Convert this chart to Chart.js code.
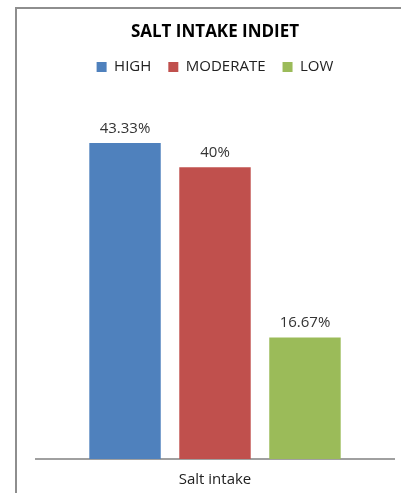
<!DOCTYPE html>
<html>
<head>
<meta charset="utf-8">
<script src="https://cdn.jsdelivr.net/npm/chart.js@4/dist/chart.umd.min.js"></script>
<style>
  html, body { margin: 0; padding: 0; background: #fff; }
  #wrap { position: relative; width: 401px; height: 493px; overflow: hidden; }
  /* chart frame: left and top edges show, the rest runs off the page */
  #frame { position: absolute; left: 15px; top: 7px; width: 500px; height: 600px;
    border: 2px solid #8e8e8e; box-sizing: border-box; }
  #c { position: absolute; left: 0; top: 0; }
</style>
</head>
<body>
<div id="wrap">
  <div id="frame"></div>
  <canvas id="c" width="401" height="493"></canvas>
</div>
<script>
  const categories = ['Salt intake'];
  const seriesNames = ['HIGH', 'MODERATE', 'LOW'];
  const seriesValues = [43.33, 40, 16.67];
  const seriesColors = ['#4f81bd', '#c0504d', '#9bbb59'];

  const FONT = '"Open Sans", sans-serif';

  // value labels above each bar
  const barLabels = {
    id: 'barLabels',
    afterDatasetsDraw(chart) {
      const ctx = chart.ctx;
      ctx.save();
      ctx.font = '15px ' + FONT;
      ctx.fillStyle = '#333';
      ctx.textAlign = 'center';
      ctx.textBaseline = 'bottom';
      chart.data.datasets.forEach((ds, i) => {
        chart.getDatasetMeta(i).data.forEach((bar, j) => {
          ctx.fillText(ds.data[j] + '%', bar.x, bar.y - 7);
        });
      });
      ctx.restore();
    }
  };

  // extra room between the legend and the bars
  const legendGap = {
    id: 'legendGap',
    beforeInit(chart) {
      const fit = chart.legend.fit;
      chart.legend.fit = function () {
        fit.call(this);
        this.height += 10;
      };
    }
  };

  new Chart(document.getElementById('c'), {
    type: 'bar',
    data: {
      labels: categories,
      datasets: seriesNames.map((name, i) => ({
        label: name,
        data: [seriesValues[i]],
        backgroundColor: seriesColors[i],
        borderWidth: 0
      }))
    },
    options: {
      responsive: false,
      animation: false,
      layout: { padding: { left: 36, right: 7, top: 12, bottom: 0 } },
      categoryPercentage: 0.754,
      barPercentage: 0.794,
      plugins: {
        title: {
          display: true, text: 'SALT INTAKE INDIET', color: '#000',
          font: { family: FONT, size: 17, weight: 'bold' }, padding: { top: 10, bottom: 0 }
        },
        legend: {
          labels: {
            color: '#222', boxWidth: 10, boxHeight: 10, padding: 17,
            font: { family: FONT, size: 15 }
          }
        },
        tooltip: { enabled: false }
      },
      scales: {
        x: {
          grid: { display: false },
          border: { color: '#a0a0a0', width: 2 },
          ticks: { color: '#222', padding: 4, font: { family: FONT, size: 15 } }
        },
        y: { display: false, min: 0, max: 50 }
      }
    },
    plugins: [barLabels, legendGap]
  });
</script>
</body>
</html>
